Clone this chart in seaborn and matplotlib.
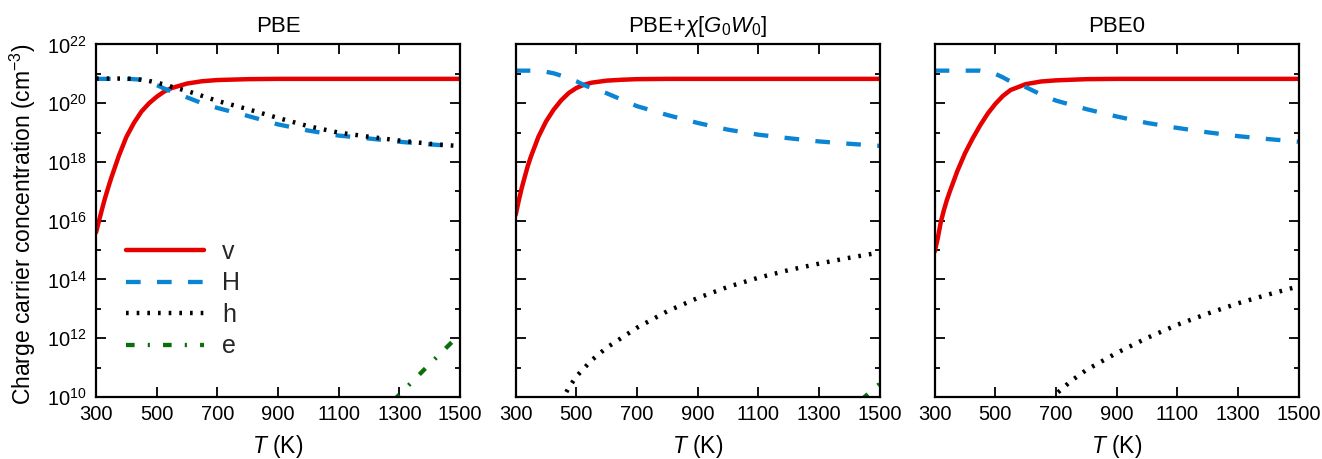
import numpy as np
import pandas as pd
import matplotlib
matplotlib.use("Agg")
import matplotlib.pyplot as plt
import seaborn as sns
from matplotlib.ticker import FixedLocator, NullFormatter, FuncFormatter

# ---------------- data (log10 of concentration, cm^-3) ----------------
T_grid = [300, 310, 320, 330, 340, 350, 375, 400, 425, 450, 475, 500, 525, 550,
          600, 650, 700, 800, 900, 1000, 1100, 1200, 1300, 1400, 1500]

# PBE
pbe_v = [15.6, 16.0, 16.4, 16.78, 17.12, 17.45, 18.2, 18.85, 19.33, 19.72, 20.0, 20.22, 20.4, 20.52,
         20.67, 20.75, 20.79, 20.82, 20.83, 20.83, 20.83, 20.83, 20.83, 20.83, 20.83]
pbe_H = [20.83, 20.83, 20.83, 20.83, 20.83, 20.83, 20.83, 20.83, 20.82, 20.8, 20.73, 20.62, 20.5, 20.4,
         20.2, 20.0, 19.84, 19.57, 19.28, 19.07, 18.9, 18.8, 18.69, 18.6, 18.53]
pbe_h = [20.84, 20.84, 20.84, 20.84, 20.84, 20.84, 20.84, 20.84, 20.83, 20.8, 20.76, 20.7, 20.64, 20.56,
         20.42, 20.25, 20.08, 19.8, 19.5, 19.22, 19.0, 18.86, 18.73, 18.62, 18.54]
pbe_e_T = [1280, 1300, 1350, 1400, 1450, 1500]
pbe_e = [9.87, 10.08, 10.6, 11.12, 11.63, 12.14]

# PBE + chi[G0W0]
gw_v = [16.2, 16.68, 17.12, 17.5, 17.87, 18.18, 18.86, 19.38, 19.78, 20.1, 20.35, 20.52, 20.63, 20.7,
        20.77, 20.8, 20.82, 20.83, 20.83, 20.83, 20.83, 20.83, 20.83, 20.83, 20.83]
gw_H = [21.11, 21.11, 21.11, 21.11, 21.11, 21.11, 21.1, 21.07, 21.02, 20.94, 20.85, 20.75, 20.62, 20.52,
        20.34, 20.12, 19.9, 19.6, 19.33, 19.1, 18.93, 18.81, 18.7, 18.62, 18.55]
gw_h_T = [450, 475, 500, 550, 600, 700, 800, 900, 1000, 1100, 1200, 1300, 1400, 1500]
gw_h = [9.85, 10.32, 10.7, 11.25, 11.68, 12.36, 12.92, 13.37, 13.75, 14.06, 14.32, 14.54, 14.74, 14.92]
gw_e_T = [1440, 1450, 1500]
gw_e = [9.9, 10.0, 10.45]

# PBE0
pbe0_v = [14.95, 15.4, 15.95, 16.35, 16.7, 17.0, 17.7, 18.3, 18.8, 19.25, 19.65, 19.98, 20.25, 20.45,
          20.65, 20.74, 20.78, 20.82, 20.83, 20.83, 20.83, 20.83, 20.83, 20.83, 20.83]
pbe0_H = [21.11, 21.11, 21.11, 21.11, 21.11, 21.11, 21.11, 21.11, 21.11, 21.11, 21.07, 21.0, 20.88, 20.74,
          20.55, 20.3, 20.09, 19.8, 19.55, 19.33, 19.16, 19.01, 18.88, 18.78, 18.69]
pbe0_h_T = [680, 700, 750, 800, 900, 1000, 1100, 1200, 1300, 1400, 1500]
pbe0_h = [9.92, 10.1, 10.55, 10.92, 11.5, 12.01, 12.46, 12.84, 13.19, 13.49, 13.77]

titles = ["PBE", r"PBE+$\chi[G_0W_0]$", "PBE0"]
x_ticks = [300, 500, 700, 900, 1100, 1300, 1500]
species = ["v", "H", "h", "e"]

# ---------------- style ----------------
sns.set_style("ticks")
plt.rcParams["font.family"] = ["Liberation Sans", "DejaVu Sans"]
plt.rcParams["mathtext.fontset"] = "custom"
plt.rcParams["mathtext.rm"] = "Liberation Sans"
plt.rcParams["mathtext.it"] = "Liberation Sans:italic"
plt.rcParams["mathtext.bf"] = "Liberation Sans:bold"

FS_TICK = 14.5
FS_LAB = 16.5
FS_TITLE = 16
FS_LEG = 18
colors = {"v": "#e60000", "H": "#0a85d4", "h": "#000000", "e": "#087008"}
widths = {"v": 3.2, "H": 3.1, "h": 3.2, "e": 3.1}
styles = {"v": "-", "H": (0, (3.4, 3.8)), "h": (0, (0.6, 1.8)), "e": (0, (2.0, 3.05, 0.5, 3.05))}

panels = [
    {"v": (T_grid, pbe_v), "H": (T_grid, pbe_H), "h": (T_grid, pbe_h), "e": (pbe_e_T, pbe_e)},
    {"v": (T_grid, gw_v), "H": (T_grid, gw_H), "h": (gw_h_T, gw_h), "e": (gw_e_T, gw_e)},
    {"v": (T_grid, pbe0_v), "H": (T_grid, pbe0_H), "h": (pbe0_h_T, pbe0_h)},
]

W, H = 1322, 459
fig = plt.figure(figsize=(W / 100, H / 100), dpi=100)
lefts = [96, 515.7, 934.7]
ax_w = 364
ax_top, ax_bot = 44.5, 397

def fmt(v, p):
    return r"$10^{%d}$" % int(round(np.log10(v)))

for i, (left, pdata) in enumerate(zip(lefts, panels)):
    ax = fig.add_axes([left / W, (H - ax_bot) / H, ax_w / W, (ax_bot - ax_top) / H])
    for sp in species:
        if sp not in pdata:
            continue
        tx, lv = pdata[sp]
        df = pd.DataFrame({"T": tx, "n": 10.0 ** np.array(lv)})
        sns.lineplot(data=df, x="T", y="n", ax=ax, color=colors[sp], lw=widths[sp],
                     linestyle=styles[sp], label=sp, legend=False, sort=True)
    ax.set_yscale("log")
    ax.set_xlim(300, 1500)
    ax.set_ylim(1e10, 1e22)
    ax.set_xticks(x_ticks)
    ax.set_xticklabels([str(t) for t in x_ticks])
    ax.yaxis.set_major_locator(FixedLocator([10.0 ** k for k in range(10, 23, 2)]))
    ax.yaxis.set_minor_locator(FixedLocator([10.0 ** k for k in range(11, 22, 2)]))
    ax.yaxis.set_major_formatter(FuncFormatter(fmt))
    ax.yaxis.set_minor_formatter(NullFormatter())
    ax.xaxis.set_minor_locator(FixedLocator([]))
    ax.tick_params(which="both", direction="in", top=True, right=True,
                   color="black", labelsize=FS_TICK, labelcolor="black")
    ax.tick_params(which="major", length=7, width=1.3)
    ax.tick_params(which="minor", length=3.6, width=1.3)
    ax.tick_params(axis="x", which="major", pad=5.5)
    ax.tick_params(axis="y", which="major", pad=6.5)
    for s in ax.spines.values():
        s.set_linewidth(1.6)
        s.set_color("black")
    ax.set_title(titles[i], fontsize=FS_TITLE, pad=9, color="black")
    ax.set_xlabel(r"$T$ (K)", fontsize=FS_LAB, labelpad=7, color="black")
    if i == 0:
        ax.set_ylabel(r"Charge carrier concentration (cm$^{-3}$)", fontsize=FS_LAB, color="black")
        ax.yaxis.set_label_coords(-0.159, 0.49)
        handles, labels = ax.get_legend_handles_labels()
        ax.legend(handles, labels, loc="center left", bbox_to_anchor=(0.082, 0.278),
                  frameon=False, fontsize=FS_LEG, handlelength=3.12, handletextpad=0.72,
                  labelspacing=0.3, borderpad=0, borderaxespad=0)
    else:
        ax.set_ylabel("")
        ax.tick_params(labelleft=False)

fig.savefig("out.png", dpi=100)
